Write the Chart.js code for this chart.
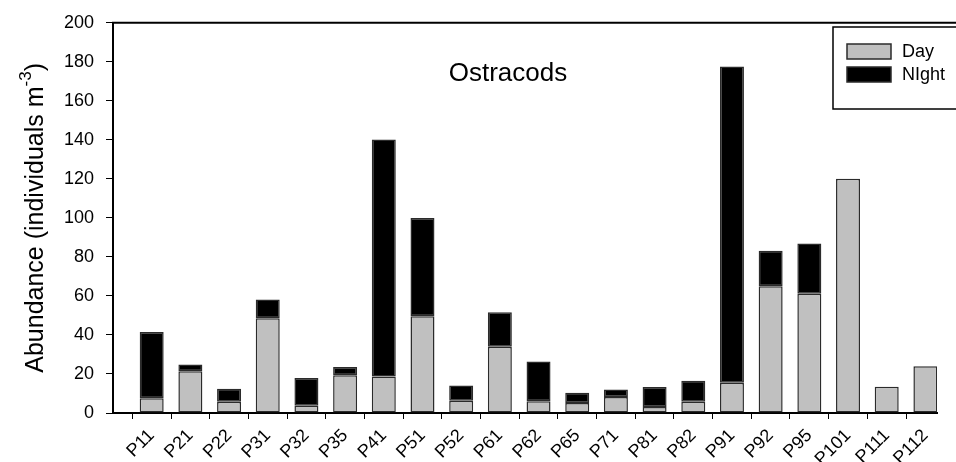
<!DOCTYPE html>
<html>
<head>
<meta charset="utf-8">
<script src="https://cdn.jsdelivr.net/npm/chart.js@4/dist/chart.umd.min.js"></script>
<style>
  html, body { margin: 0; padding: 0; background: #fff; }
  #chart { display: block; }
</style>
</head>
<body>
<canvas id="chart" width="956" height="462"></canvas>
<script>
// Stations sampled
const categories = ['P11', 'P21', 'P22', 'P31', 'P32', 'P35', 'P41', 'P51', 'P52', 'P61', 'P62',
                    'P65', 'P71', 'P81', 'P82', 'P91', 'P92', 'P95', 'P101', 'P111', 'P112'];

// Ostracod abundance (individuals m-3), day and night tows, stacked
const dayValues   = [7.5, 21.4, 5.8, 48.6, 3.7, 19.4, 18.7, 49.6, 6.3, 34.0, 6.0,
                     5.1, 8.2, 3.1, 5.8, 15.5, 65.0, 61.1, 120.1, 13.4, 24.0];
const nightValues = [34.0, 3.4, 6.6, 9.6, 14.3, 4.2, 121.5, 50.4, 7.8, 17.7, 20.4,
                     5.3, 3.9, 10.2, 10.7, 162.1, 18.2, 25.8, 0, 0, 0];

const yTicks = [0, 20, 40, 60, 80, 100, 120, 140, 160, 180, 200];

const FONT = 'Liberation Sans, Arial, Helvetica, sans-serif';
const DAY_FILL = '#c0c0c0';
const NIGHT_FILL = '#000000';
const EDGE = '#2b2b2b';

const toPoints = vals => vals.map((v, i) => ({ x: i, y: v }));

// Frame line along the top, panel title, y-axis title with superscript and the inset legend
const decorations = {
  id: 'decorations',
  afterDraw(chart) {
    const { ctx, chartArea } = chart;
    const top = chartArea.top;
    ctx.save();

    // top frame line
    ctx.strokeStyle = '#000';
    ctx.lineWidth = 2;
    ctx.beginPath();
    ctx.moveTo(chartArea.left - 1, top);
    ctx.lineTo(chart.width + 2, top);
    ctx.stroke();

    // panel title
    ctx.fillStyle = '#000';
    ctx.font = '26px ' + FONT;
    ctx.textAlign = 'center';
    ctx.textBaseline = 'alphabetic';
    ctx.fillText('Ostracods', 508, 81);

    // y-axis title: "Abundance (individuals m" + superscript "-3" + ")"
    const mainText = 'Abundance (individuals m';
    const supText = '-3';
    const closeText = ')';
    ctx.font = '25px ' + FONT;
    const wMain = ctx.measureText(mainText).width;
    const wClose = ctx.measureText(closeText).width;
    ctx.font = '17px ' + FONT;
    const wSup = ctx.measureText(supText).width;
    const total = wMain + wSup + wClose;
    const cy = (chartArea.top + chartArea.bottom) / 2;
    ctx.translate(43, cy);
    ctx.rotate(-Math.PI / 2);
    ctx.textAlign = 'left';
    let x0 = -total / 2;
    ctx.font = '25px ' + FONT;
    ctx.fillText(mainText, x0, 0);
    ctx.font = '17px ' + FONT;
    ctx.fillText(supText, x0 + wMain, -12);
    ctx.font = '25px ' + FONT;
    ctx.fillText(closeText, x0 + wMain + wSup, 0);
    ctx.setTransform(1, 0, 0, 1, 0, 0);

    // legend box
    const boxX = 833, boxY = 27, boxW = 130, boxH = 82;
    ctx.fillStyle = '#fff';
    ctx.fillRect(boxX, boxY, boxW, boxH);
    ctx.strokeStyle = '#000';
    ctx.lineWidth = 1.5;
    ctx.strokeRect(boxX, boxY, boxW, boxH);

    const items = chart.data.datasets;
    items.forEach((ds, k) => {
      const sy = 44 + k * 23;
      ctx.fillStyle = ds.backgroundColor;
      ctx.fillRect(847, sy, 44, 15);
      ctx.strokeStyle = EDGE;
      ctx.lineWidth = 1.5;
      ctx.strokeRect(847, sy, 44, 15);
      ctx.fillStyle = '#000';
      ctx.font = '18px ' + FONT;
      ctx.textAlign = 'left';
      ctx.textBaseline = 'middle';
      ctx.fillText(ds.label, 902, sy + 8);
    });

    ctx.restore();
  }
};

new Chart(document.getElementById('chart'), {
  type: 'bar',
  data: {
    datasets: [
      {
        label: 'Day',
        data: toPoints(dayValues),
        backgroundColor: DAY_FILL,
        borderColor: EDGE,
        borderWidth: 1.5,
        borderSkipped: false,
        categoryPercentage: 1,
        barPercentage: 0.62
      },
      {
        label: 'NIght',
        data: toPoints(nightValues),
        backgroundColor: NIGHT_FILL,
        borderColor: EDGE,
        borderWidth: 1.5,
        borderSkipped: false,
        categoryPercentage: 1,
        barPercentage: 0.62
      }
    ]
  },
  options: {
    responsive: false,
    animation: false,
    devicePixelRatio: 1,
    layout: { padding: { top: 21, right: 19, left: 0, bottom: 0 } },
    plugins: {
      legend: { display: false },
      tooltip: { enabled: false },
      title: { display: false }
    },
    scales: {
      x: {
        type: 'linear',
        stacked: true,
        offset: false,
        min: -1,
        max: 20.3,
        afterBuildTicks: scale => { scale.ticks = categories.map((_, i) => ({ value: i })); },
        afterFit: scale => { scale.height = 49; },
        grid: { drawOnChartArea: false, drawTicks: true, tickLength: 6, color: '#000', lineWidth: 1 },
        border: { display: true, color: '#000', width: 2 },
        ticks: {
          autoSkip: false,
          minRotation: 45,
          maxRotation: 45,
          padding: 6,
          color: '#000',
          font: { family: FONT, size: 18 },
          callback: value => categories[value] ?? ''
        }
      },
      y: {
        stacked: true,
        min: 0,
        max: 200,
        afterBuildTicks: scale => { scale.ticks = yTicks.map(v => ({ value: v })); },
        afterFit: scale => { scale.width = 113; },
        grid: { drawOnChartArea: false, drawTicks: true, tickLength: 7, color: '#000', lineWidth: 1 },
        border: { display: true, color: '#000', width: 2 },
        ticks: {
          padding: 12,
          color: '#000',
          font: { family: FONT, size: 18 }
        }
      }
    }
  },
  plugins: [decorations]
});
</script>
</body>
</html>
